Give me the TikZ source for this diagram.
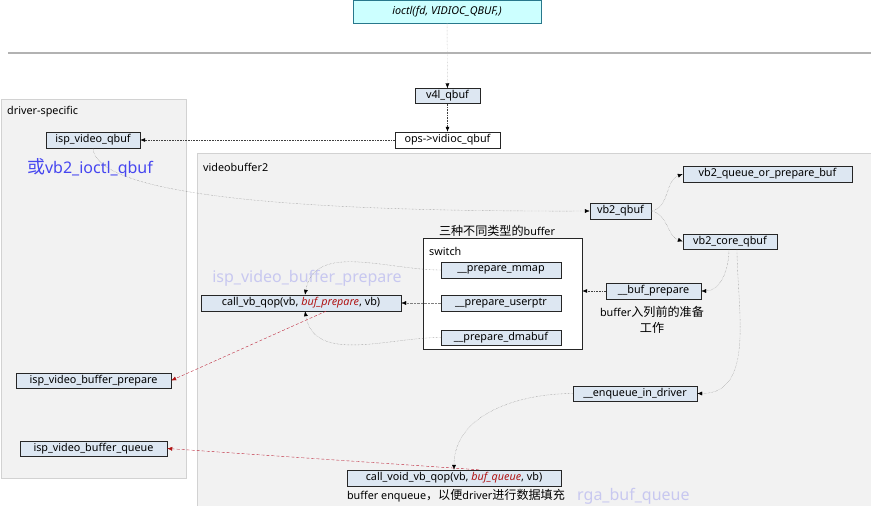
\documentclass[tikz,border=0pt]{standalone}
\usepackage{fontspec}
\setmainfont{Noto Sans}
\newfontfamily\cjk[Scale=1.12]{Noto Sans CJK SC}
\usetikzlibrary{arrows.meta,positioning}
\definecolor{fnfill}{RGB}{221,231,242}
\definecolor{areafill}{RGB}{242,242,242}
\definecolor{arealine}{RGB}{210,210,210}
\definecolor{ioctlfill}{RGB}{204,255,255}
\definecolor{ioctlline}{RGB}{40,120,140}
\definecolor{hintblue}{RGB}{70,70,240}
\definecolor{fadeblue}{RGB}{200,200,240}
\definecolor{cbred}{RGB}{176,20,20}
\definecolor{linkred}{RGB}{190,40,60}
\newcommand{\cbname}[1]{\textcolor{cbred}{\textbf{\textit{#1}}}}

\begin{document}
\begin{tikzpicture}[x=1pt,y=-1pt,
  fn/.style={draw=black!85,fill=fnfill,font=\fontsize{10.8}{12}\selectfont,minimum height=16pt,inner sep=0pt},
  area/.style={draw=arealine,fill=areafill,anchor=north west,inner sep=0pt},
  tag/.style={font=\fontsize{10.8}{12}\selectfont,inner sep=0pt},
  ghost/.style={font=\fontsize{16}{18}\selectfont,fadeblue,inner sep=0pt},
  call/.style={-{Latex[length=5pt,width=4pt,color=black]},gray,densely dotted},
  hop/.style={-{Latex[length=5pt,width=4pt,color=black]},black!75,densely dotted,semithick},
  hook/.style={-{Latex[length=5pt,width=4pt,color=cbred]},linkred,densely dashed}]
  \useasboundingbox[fill=white] (0,0) rectangle (871,506);
  % user space / kernel
  \node[draw=ioctlline,fill=ioctlfill,minimum width=188pt,minimum height=23pt,inner sep=0pt,
    font=\fontsize{10.8}{12}\selectfont\itshape] (ioctl) at (447,11.5) {ioctl(fd, VIDIOC\_QBUF,)};
  \draw[gray!60,line width=2pt] (8,53) -- (871,53);
  % areas
  \node[area,minimum width=185pt,minimum height=379pt] (drvarea) at (1,99) {};
  \node[area,minimum width=680pt,minimum height=360pt] (vb2area) at (197,153) {};
  \node[tag,anchor=west] at (7,112) {driver-specific};
  \node[tag,anchor=west] at (203,167) {videobuffer2};
  % v4l2 core
  \node[fn,minimum width=65pt,minimum height=15pt] (v4lqbuf) at (447.5,96) {v4l\_qbuf};
  \node[fn,fill=white,minimum width=105pt] (opsqbuf) at (447.5,140) {ops->vidioc\_qbuf};
  \draw[call,gray!60] (ioctl) -- (v4lqbuf);
  \draw[hop] (v4lqbuf) -- (opsqbuf);
  % driver side
  \node[fn,minimum width=94pt] (ispqbuf) at (93,140) {isp\_video\_qbuf};
  \node[font=\fontsize{16}{18}\selectfont,hintblue,inner sep=0pt] at (90,168) {{\cjk 或}vb2\_ioctl\_qbuf};
  \node[fn,minimum width=155pt,minimum height=15pt] (ispprep) at (93.5,380.5) {isp\_video\_buffer\_prepare};
  \node[fn,minimum width=147pt,minimum height=15pt] (ispqueue) at (93.5,448.5) {isp\_video\_buffer\_queue};
  \draw[hop] (opsqbuf) -- (ispqbuf);
  % videobuf2
  \node[fn,minimum width=61pt] (vbqbuf) at (620.5,211) {vb2\_qbuf};
  \node[fn,minimum width=169pt] (vbqop) at (767.5,174) {vb2\_queue\_or\_prepare\_buf};
  \node[fn,minimum width=94pt,minimum height=15pt] (vbcore) at (730,241.5) {vb2\_core\_qbuf};
  \draw[call] (ispqbuf.south) .. controls (96,196) and (300,212) .. (vbqbuf.west);
  \draw[call] (vbqbuf.east) to[out=10,in=200] (vbqop.west);
  \draw[call] (vbqbuf.east) to[out=-10,in=160] (vbcore.west);
  % switch
  \node[tag] at (497,231) {{\cjk 三种不同类型的}buffer};
  \node[draw=black!85,fill=white,minimum width=159pt,minimum height=111pt,inner sep=0pt] (switch) at (502.5,293.5) {};
  \node[tag,anchor=west] at (429,251) {switch};
  \node[fn,minimum width=120pt] (pmmap) at (501,270) {\_\_prepare\_mmap};
  \node[fn,minimum width=120pt] (puserptr) at (501,303) {\_\_prepare\_userptr};
  \node[fn,minimum width=120pt,minimum height=15pt] (pdmabuf) at (501,337.5) {\_\_prepare\_dmabuf};
  \node[fn,minimum width=200pt] (callvb) at (301,303) {call\_vb\_qop(vb, \cbname{buf\_prepare}, vb)};
  \node[ghost] at (307,278) {isp\_video\_buffer\_prepare};
  \draw[call] (pmmap.west) to[out=180,in=80] ([xshift=4pt]callvb.north);
  \draw[call] (puserptr) -- (callvb);
  \draw[call] (pdmabuf.west) to[out=180,in=-80] ([xshift=4pt]callvb.south);
  % prepare / enqueue
  \node[fn,minimum width=95pt] (bufprep) at (653.5,291) {\_\_buf\_prepare};
  \node[tag,align=center] at (652,320) {buffer{\cjk 入列前的准备}\\[4pt]{\cjk 工作}};
  \node[fn,minimum width=124pt,minimum height=15pt] (enqueue) at (635,393.5) {\_\_enqueue\_in\_driver};
  \draw[hop] (bufprep) -- (switch.east |- bufprep);
  \draw[call] ([xshift=-1pt]vbcore.south) to[out=-90,in=0] (bufprep.east);
  \draw[call] ([xshift=7pt]vbcore.south) to[out=-90,in=0] (enqueue.east);
  \node[fn,minimum width=214pt] (callvoid) at (454,478) {call\_void\_vb\_qop(vb, \cbname{buf\_queue}, vb)};
  \draw[call] (enqueue.west) to[out=180,in=90] (callvoid.north);
  \node[tag] at (456,496) {buffer enqueue{\cjk ，以便}driver{\cjk 进行数据填充}};
  \node[ghost,anchor=west] at (577,496) {rga\_buf\_queue};
  % driver hooks
  \draw[hook] ([xshift=25pt]callvb.south) -- (ispprep.east);
  \draw[hook] ([xshift=25pt]callvoid.north) -- (ispqueue.east);
\end{tikzpicture}
\end{document}
